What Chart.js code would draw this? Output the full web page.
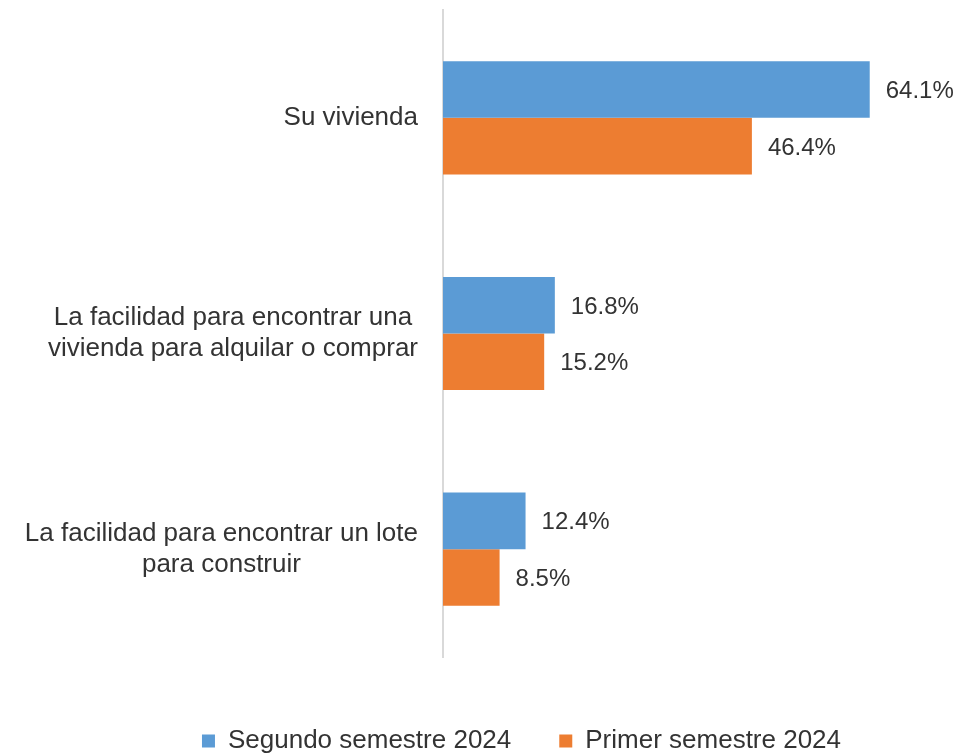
<!DOCTYPE html>
<html>
<head>
<meta charset="utf-8">
<script src="https://cdn.jsdelivr.net/npm/chart.js@4/dist/chart.umd.min.js"></script>
<style>
  html, body { margin: 0; padding: 0; background: #fff; }
  #wrap { width: 957px; height: 755px; }
</style>
</head>
<body>
<div id="wrap"><canvas id="barChart" width="957" height="755"></canvas></div>
<script>
// chart data
const categories = [
  ["Su vivienda"],
  ["La facilidad para encontrar una", "vivienda para alquilar o comprar"],
  ["La facilidad para encontrar un lote", "para construir"]
];
const seriesNames = ["Segundo semestre 2024", "Primer semestre 2024"];
const segundoValues = [64.1, 16.8, 12.4];
const primerValues = [46.4, 15.2, 8.5];

const textColor = "#333333";
const fontFamily = "'Liberation Sans', Arial, sans-serif";

// category labels: lines centred on each other, block ending near the axis
const categoryLabels = {
  id: "categoryLabels",
  afterDraw(chart) {
    const ctx = chart.ctx;
    const yScale = chart.scales.y;
    const rightEdge = yScale.right - 25;
    const lineH = 31;
    ctx.save();
    ctx.font = "26px " + fontFamily;
    ctx.fillStyle = textColor;
    ctx.textAlign = "center";
    ctx.textBaseline = "middle";
    chart.data.labels.forEach((lines, i) => {
      const widest = Math.max(...lines.map(l => ctx.measureText(l).width));
      const cx = rightEdge - widest / 2;
      const cy = yScale.getPixelForTick(i);
      lines.forEach((l, j) => {
        ctx.fillText(l, cx, cy + (j - (lines.length - 1) / 2) * lineH);
      });
    });
    ctx.restore();
  }
};

// value labels at the end of each bar
const barLabels = {
  id: "barLabels",
  afterDatasetsDraw(chart) {
    const ctx = chart.ctx;
    ctx.save();
    ctx.font = "24px " + fontFamily;
    ctx.fillStyle = textColor;
    ctx.textAlign = "left";
    ctx.textBaseline = "middle";
    chart.data.datasets.forEach((ds, di) => {
      const meta = chart.getDatasetMeta(di);
      meta.data.forEach((bar, i) => {
        ctx.fillText(ds.data[i].toFixed(1) + "%", bar.x + 16, bar.y + 2);
      });
    });
    ctx.restore();
  }
};

// nudge the legend to the right, like the original
const legendShift = {
  id: "legendShift",
  afterLayout(chart) {
    if (chart.legend) chart.legend.left = 134;
  }
};

const ctx = document.getElementById("barChart").getContext("2d");
new Chart(ctx, {
  type: "bar",
  data: {
    labels: categories,
    datasets: [
      {
        label: seriesNames[0],
        data: segundoValues,
        backgroundColor: "#5B9BD5",
        categoryPercentage: 0.525,
        barPercentage: 1.0
      },
      {
        label: seriesNames[1],
        data: primerValues,
        backgroundColor: "#ED7D31",
        categoryPercentage: 0.525,
        barPercentage: 1.0
      }
    ]
  },
  options: {
    indexAxis: "y",
    responsive: false,
    animation: false,
    layout: {
      padding: { top: 10, right: 48, bottom: 0, left: 0 }
    },
    scales: {
      x: {
        min: 0,
        max: 70,
        grid: { display: false },
        border: { display: false },
        ticks: { display: false },
        afterFit(scale) {
          scale.height = 23;
          scale.paddingLeft = 0;
          scale.paddingRight = 0;
        }
      },
      y: {
        grid: { display: false },
        border: { display: true, color: "#D9D9D9", width: 2 },
        ticks: { display: false },
        afterFit(scale) {
          scale.width = 443;
          scale.paddingTop = 0;
          scale.paddingBottom = 0;
        }
      }
    },
    plugins: {
      tooltip: { enabled: false },
      legend: {
        position: "bottom",
        maxHeight: 75,
        labels: {
          color: textColor,
          boxWidth: 13,
          boxHeight: 13,
          padding: 48,
          font: { family: fontFamily, size: 26 }
        }
      }
    }
  },
  plugins: [barLabels, categoryLabels, legendShift]
});
</script>
</body>
</html>
